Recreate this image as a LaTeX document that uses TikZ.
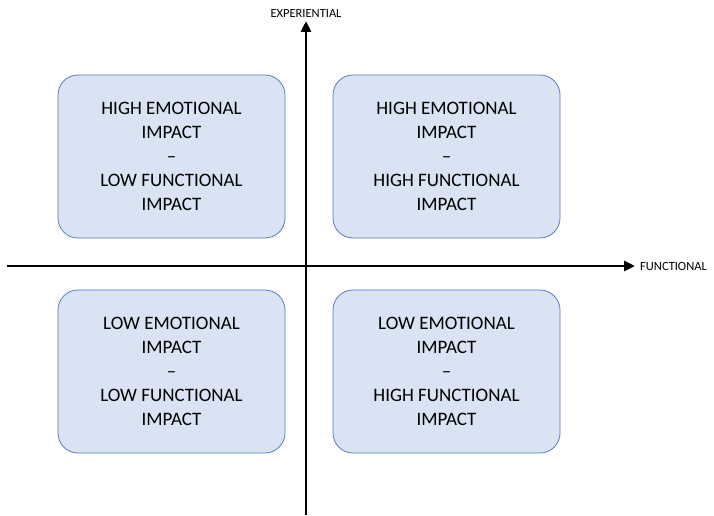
\documentclass[tikz,border=0pt]{standalone}
\usepackage{fontspec}
\setmainfont{Carlito}
\usetikzlibrary{positioning, arrows.meta}
\definecolor{boxfill}{HTML}{DAE3F3}
\definecolor{boxline}{HTML}{5A7BBE}
\tikzset{
  quadrant/.style={rectangle, rounded corners=20pt, minimum width=227pt, minimum height=163pt, text centered, align=center, draw=boxline, fill=boxfill, line width=0.8pt, font=\fontsize{19}{24}\selectfont},
  axis/.style={line width=2.8pt, -{Triangle[length=11pt,width=10pt]}},
  axislabel/.style={font=\fontsize{12.5}{14}\selectfont, inner sep=0pt}
}
\begin{document}
\begin{tikzpicture}[x=1pt,y=1pt]
    % Area of the picture
    \useasboundingbox (0,0) rectangle (714,515);

    % End points of the two axes
    \coordinate (left) at (7,249);
    \coordinate (right) at (635,249);
    \coordinate (bottom) at (306,0);
    \coordinate (top) at (306,494);

    % Axes with their labels
    \draw[axis] (left) -- (right);
    \draw[axis] (bottom) -- (top);
    \node[axislabel, anchor=west] (funclabel) at (640,249) {FUNCTIONAL};
    \node[axislabel] (explabel) at (306,502) {EXPERIENTIAL};

    % The four quadrants
    \node[quadrant] (topleft) at (171.5,358.5) {HIGH EMOTIONAL\\IMPACT\\–\\LOW FUNCTIONAL\\IMPACT};
    \node[quadrant] (topright) at (446.5,358.5) {HIGH EMOTIONAL\\IMPACT\\–\\HIGH FUNCTIONAL\\IMPACT};
    \node[quadrant] (bottomleft) at (171.5,143.5) {LOW EMOTIONAL\\IMPACT\\–\\LOW FUNCTIONAL\\IMPACT};
    \node[quadrant] (bottomright) at (446.5,143.5) {LOW EMOTIONAL\\IMPACT\\–\\HIGH FUNCTIONAL\\IMPACT};
\end{tikzpicture}
\end{document}
